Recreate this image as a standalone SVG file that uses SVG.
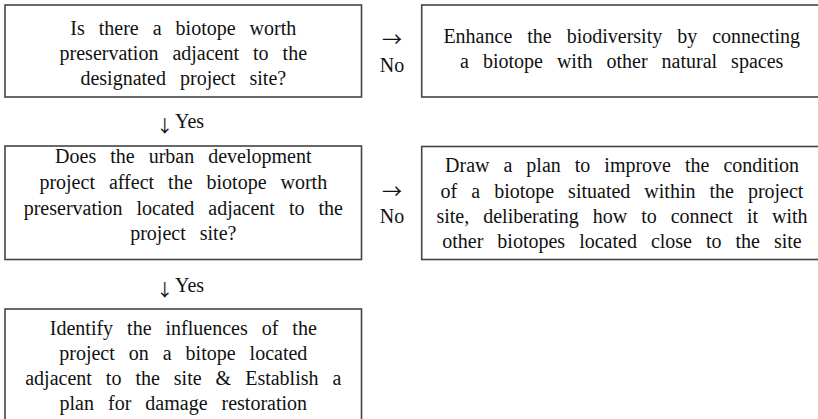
<svg xmlns="http://www.w3.org/2000/svg" width="818" height="419" viewBox="0 0 818 419">
<style>
.box{fill:#fff;stroke:#444;stroke-width:1.6}
text{font-family:'Liberation Serif','Times New Roman','DejaVu Serif',serif;font-size:20px;fill:#111}
.c{text-anchor:middle}
.w{word-spacing:9px}
.ar{font-family:'Noto Sans CJK KR','Noto Sans CJK SC',sans-serif;text-anchor:middle}
</style>
<rect width="818" height="419" fill="#fff"/>
<g id="q1">
<rect class="box" x="5" y="5" width="356.5" height="92"/>
<text class="c w" x="183.3" y="35">Is there a biotope worth</text>
<text class="c w" x="183.3" y="60">preservation adjacent to the</text>
<text class="c w" x="183.3" y="85">designated project site?</text>
</g>
<g id="a1">
<rect class="box" x="421.7" y="5" width="410" height="92"/>
<text class="c w" x="621.7" y="43" style="word-spacing:10px">Enhance the biodiversity by connecting</text>
<text class="c w" x="621.7" y="68">a biotope with other natural spaces</text>
</g>
<g id="q2">
<rect class="box" x="5" y="146" width="356.5" height="113.5"/>
<text class="c w" x="183.3" y="163">Does the urban development</text>
<text class="c w" x="183.3" y="189">project affect the biotope worth</text>
<text class="c w" x="183.3" y="215">preservation located adjacent to the</text>
<text class="c w" x="183.3" y="240">project site?</text>
</g>
<g id="a2">
<rect class="box" x="421.7" y="146.5" width="410" height="113"/>
<text class="c w" x="622" y="172">Draw a plan to improve the condition</text>
<text class="c w" x="622" y="198">of a biotope situated within the project</text>
<text class="c w" x="622" y="223">site, deliberating how to connect it with</text>
<text class="c w" x="622" y="248">other biotopes located close to the site</text>
</g>
<g id="a3">
<rect class="box" x="5" y="309" width="356.5" height="130"/>
<text class="c w" x="183.3" y="335">Identify the influences of the</text>
<text class="c w" x="183.3" y="360">project on a bitope located</text>
<text class="c w" x="183.3" y="385">adjacent to the site &amp; Establish a</text>
<text class="c w" x="183.3" y="410">plan for damage restoration</text>
</g>
<g id="connectors">
<text class="ar" x="392" y="46.5">→</text>
<text class="c" x="392" y="72">No</text>
<text class="ar" x="392" y="198.5">→</text>
<text class="c" x="392" y="223">No</text>
<text class="ar" x="164.7" y="132" style="font-size:17px">↓</text>
<text x="175" y="128">Yes</text>
<text class="ar" x="164.7" y="296" style="font-size:17px">↓</text>
<text x="175" y="292">Yes</text>
</g>
</svg>
